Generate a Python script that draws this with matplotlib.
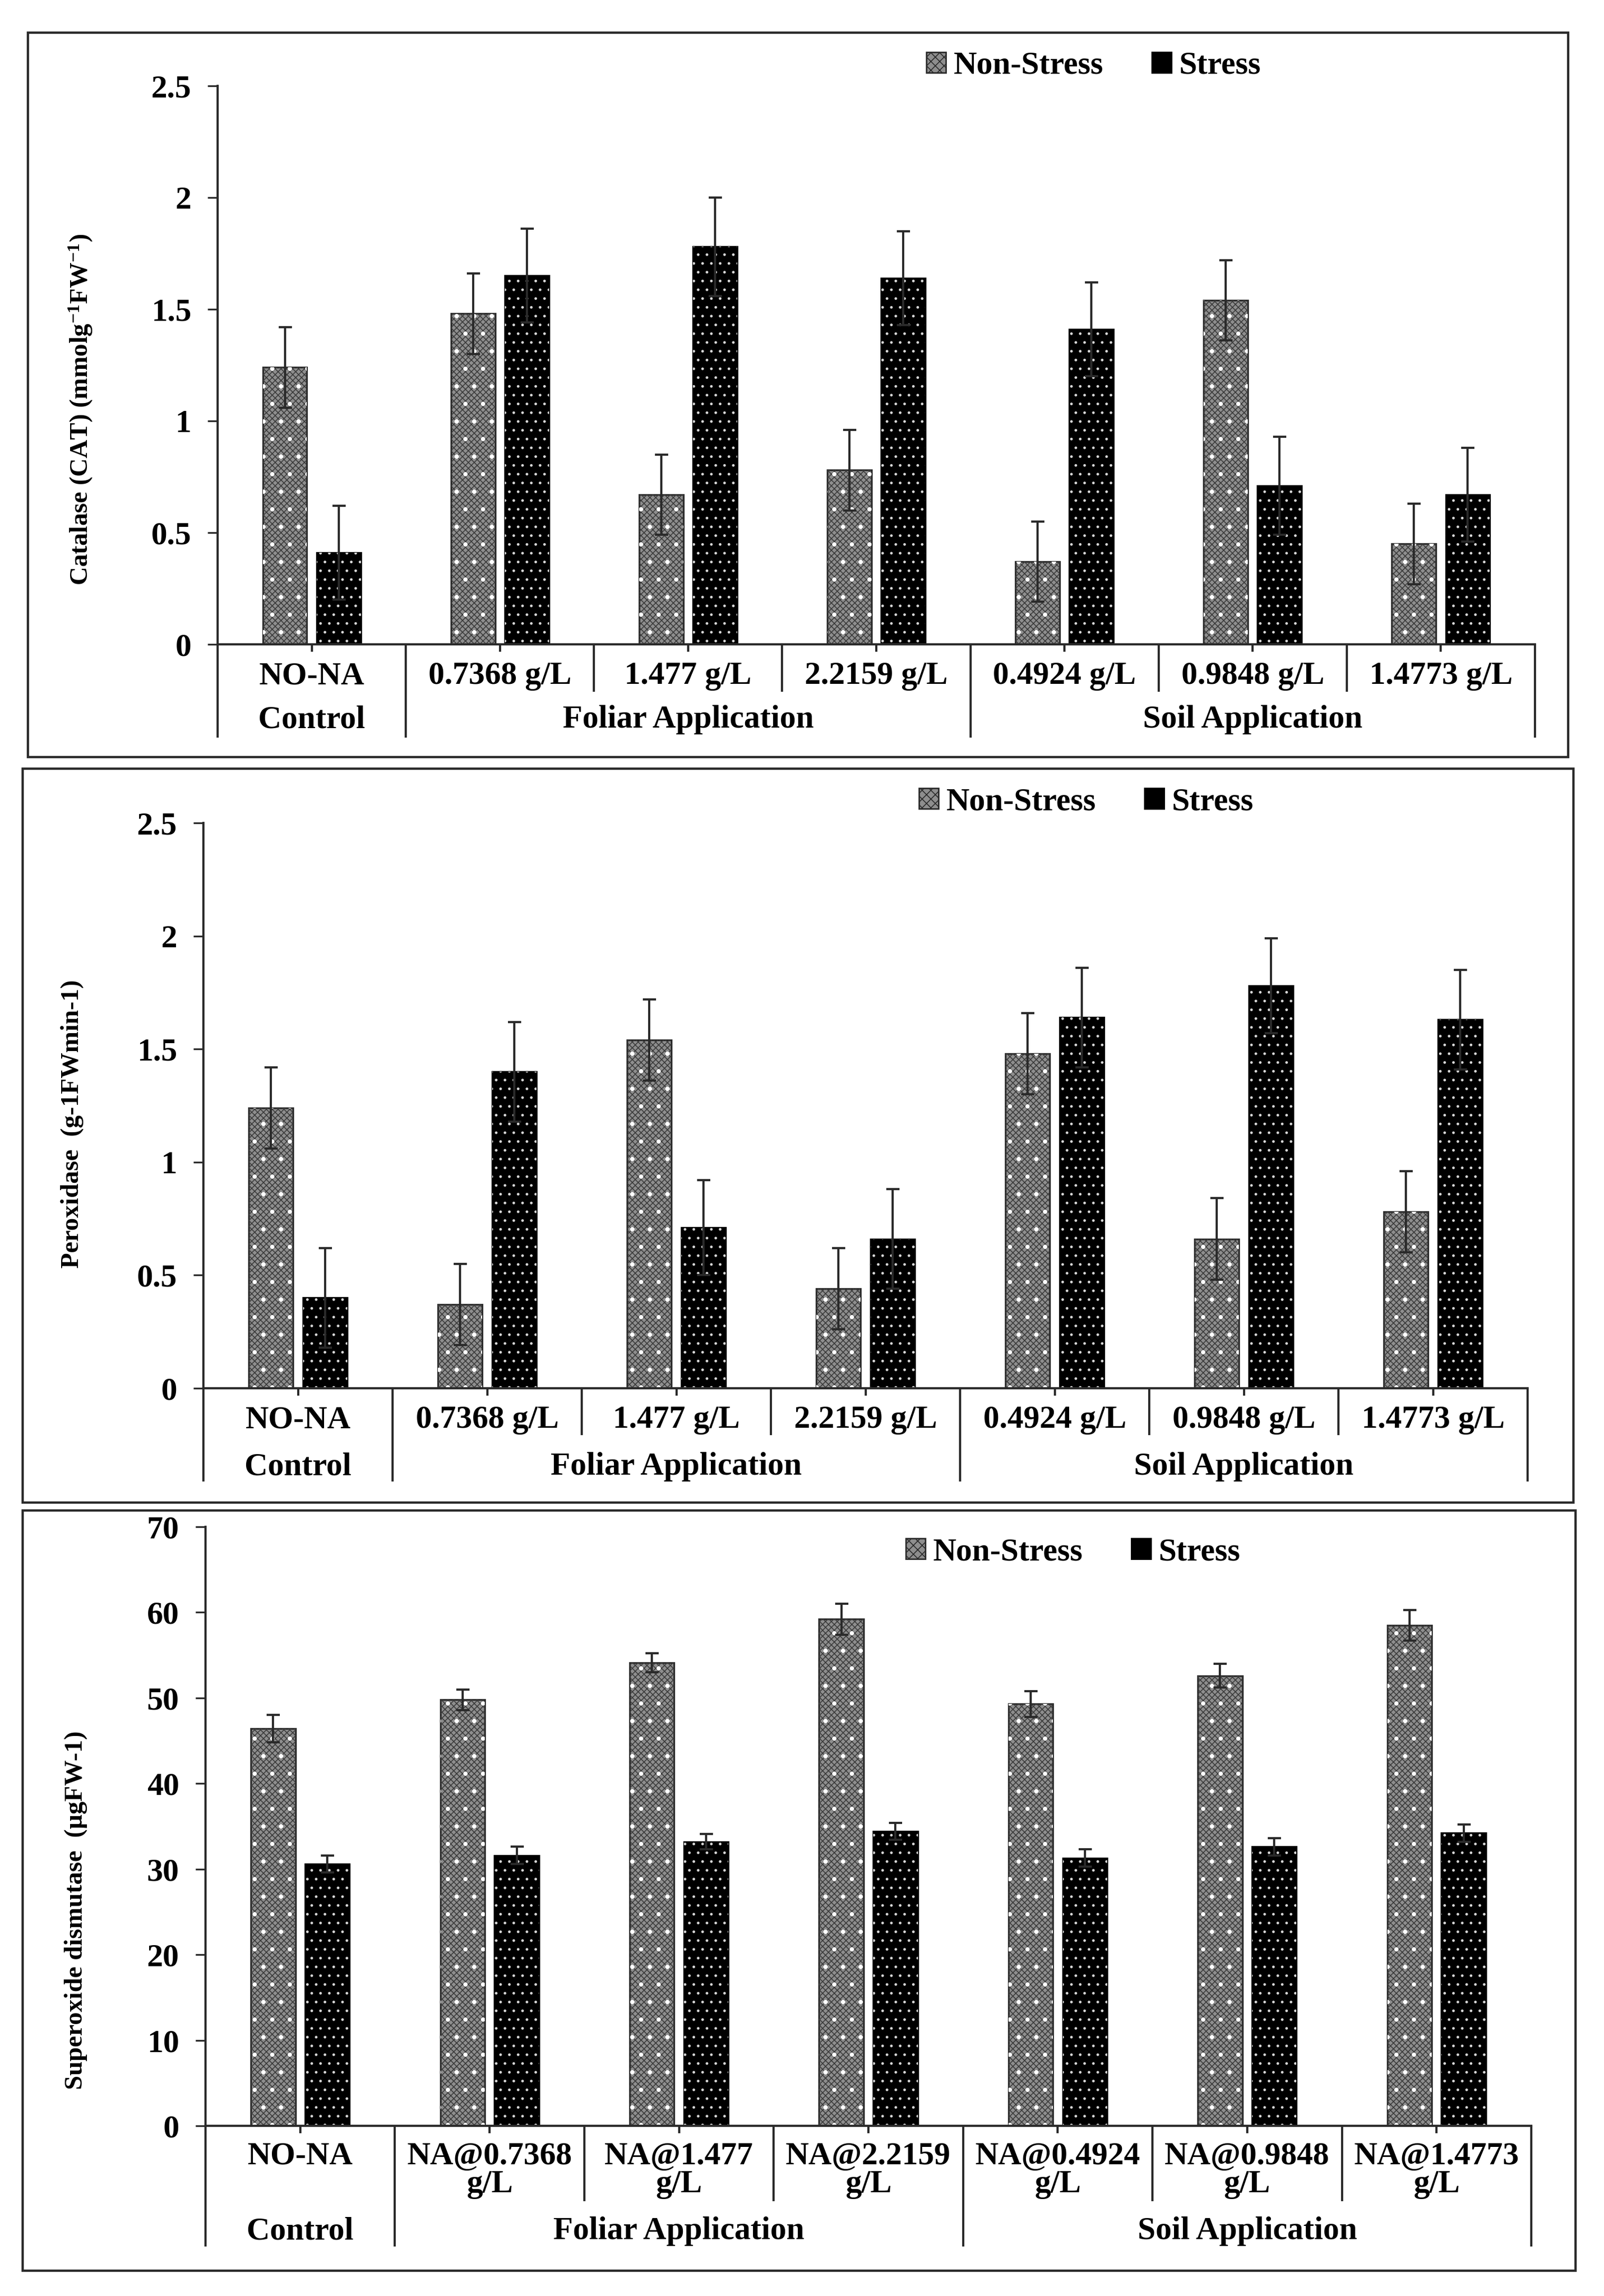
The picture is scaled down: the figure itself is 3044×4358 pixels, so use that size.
import numpy as np
import matplotlib.pyplot as plt
from matplotlib.patches import Rectangle, Patch
from matplotlib.ticker import FuncFormatter

plt.rcParams['font.family'] = ['Liberation Serif', 'DejaVu Serif']
plt.rcParams['font.weight'] = 'bold'
plt.rcParams['mathtext.fontset'] = 'custom'
plt.rcParams['mathtext.rm'] = 'Liberation Serif:bold'
plt.rcParams['mathtext.it'] = 'Liberation Serif:bold'
plt.rcParams['mathtext.bf'] = 'Liberation Serif:bold'
plt.rcParams['hatch.linewidth'] = 0.6

# categories
doses = ["NO-NA", "0.7368 g/L", "1.477 g/L", "2.2159 g/L",
         "0.4924 g/L", "0.9848 g/L", "1.4773 g/L"]
sod_doses = ["NO-NA", "NA@0.7368\ng/L", "NA@1.477\ng/L", "NA@2.2159\ng/L",
             "NA@0.4924\ng/L", "NA@0.9848\ng/L", "NA@1.4773\ng/L"]
groups = ["Control", "Foliar Application", "Soil Application"]
group_pos = [0, 2, 5]
series = ["Non-Stress", "Stress"]

# Catalase
cat_ns = [1.24, 1.48, 0.67, 0.78, 0.37, 1.54, 0.45]
cat_ns_err = [0.18, 0.18, 0.18, 0.18, 0.18, 0.18, 0.18]
cat_st = [0.41, 1.65, 1.78, 1.64, 1.41, 0.71, 0.67]
cat_st_err = [0.21, 0.21, 0.22, 0.21, 0.21, 0.22, 0.21]

# Peroxidase
pod_ns = [1.24, 0.37, 1.54, 0.44, 1.48, 0.66, 0.78]
pod_ns_err = [0.18, 0.18, 0.18, 0.18, 0.18, 0.18, 0.18]
pod_st = [0.40, 1.40, 0.71, 0.66, 1.64, 1.78, 1.63]
pod_st_err = [0.22, 0.22, 0.21, 0.22, 0.22, 0.21, 0.22]

# Superoxide dismutase
sod_ns = [46.4, 49.8, 54.1, 59.2, 49.3, 52.6, 58.5]
sod_ns_err = [1.6, 1.2, 1.1, 1.8, 1.5, 1.4, 1.8]
sod_st = [30.6, 31.6, 33.2, 34.4, 31.3, 32.6, 34.2]
sod_st_err = [1.0, 1.0, 0.9, 1.0, 1.0, 1.0, 1.0]

W, H = 3044, 4358
fig = plt.figure(figsize=(W / 200, H / 200), dpi=200)
fs = 22
dark = '#2a2a2a'


def add_ax(x0, y_top, x1, y_bot):
    return fig.add_axes([x0 / W, 1 - y_bot / H, (x1 - x0) / W, (y_bot - y_top) / H])


def frame(x0, y0, x1, y1):
    fig.patches.append(Rectangle((x0 / W, 1 - y1 / H), (x1 - x0) / W, (y1 - y0) / H,
                                 transform=fig.transFigure, fill=False,
                                 edgecolor=dark, linewidth=1.6))


def panel(ax, ns, ns_err, st, st_err, ymax, ystep, ylabel, ylab_xy, labels,
          row1, row2, short_bot, long_bot, two_line=False):
    x = np.arange(len(ns))
    w = 0.235
    off = 0.143
    # non-stress bars: grey with dark checker and white dots
    ax.bar(x - off, ns, w, color='#8e8e8e', edgecolor=dark, linewidth=1.2, zorder=2)
    ax.bar(x - off, ns, w, fill=False, hatch='xxxxxx', edgecolor='#3c3c3c', linewidth=0, zorder=2.1)
    ax.bar(x - off, ns, w, fill=False, hatch='.', edgecolor='white', linewidth=0, zorder=2.2)
    # stress bars: black with white dots
    ax.bar(x + off, st, w, color='black', edgecolor='black', linewidth=1.2, zorder=2)
    ax.bar(x + off, st, w, fill=False, hatch='..', edgecolor='#d8d8d8', linewidth=0, zorder=2.1)
    ax.errorbar(x - off, ns, yerr=ns_err, fmt='none', ecolor=dark, elinewidth=1.5,
                capsize=4.5, capthick=1.5, zorder=3)
    ax.errorbar(x + off, st, yerr=st_err, fmt='none', ecolor=dark, elinewidth=1.5,
                capsize=4.5, capthick=1.5, zorder=3)

    ax.set_xlim(-0.5, len(ns) - 0.5)
    ax.set_ylim(0, ymax)
    ax.set_yticks(np.arange(0, ymax + ystep / 2, ystep))
    ax.yaxis.set_major_formatter(FuncFormatter(lambda v, p: '%g' % v))
    ax.set_xticks(x)
    ax.set_xticklabels([])
    for s in ['top', 'right']:
        ax.spines[s].set_visible(False)
    for s in ['left', 'bottom']:
        ax.spines[s].set_color(dark)
        ax.spines[s].set_linewidth(1.5)
    ax.tick_params(axis='y', length=7, width=1.2, pad=11, labelsize=fs, colors=dark,
                   labelcolor='black')
    ax.tick_params(axis='x', length=5, width=1.5, colors=dark)

    tr = ax.get_xaxis_transform()
    kw = dict(transform=tr, color=dark, linewidth=1.5, clip_on=False, solid_capstyle='butt')
    for xv in [-0.5, 0.5, 3.5, len(ns) - 0.5]:
        ax.plot([xv, xv], [0, long_bot], **kw)
    for xv in [1.5, 2.5, 4.5, 5.5]:
        ax.plot([xv, xv], [0, short_bot], **kw)

    for i, lab in enumerate(labels):
        if two_line:
            ax.text(i, row1, lab, transform=tr, ha='center', va='top', fontsize=fs,
                    fontweight='bold', linespacing=0.95)
        else:
            ax.text(i, row1, lab, transform=tr, ha='center', va='center', fontsize=fs,
                    fontweight='bold')
    for gx, g in zip(group_pos, groups):
        ax.text(gx, row2, g, transform=tr, ha='center', va='center', fontsize=fs,
                fontweight='bold')

    ax.text(ylab_xy[0], ylab_xy[1], ylabel, transform=ax.transAxes, rotation=90,
            ha='center', va='center', fontsize=17.5, fontweight='bold')


def legend_at(xp, yp):
    handles = [Patch(facecolor='#8e8e8e', edgecolor=dark, hatch='xxxx', linewidth=1),
               Patch(facecolor='black', edgecolor='black', linewidth=1)]
    fig.legend(handles, series, loc='center left', bbox_to_anchor=(xp / W, 1 - yp / H),
               ncol=2, frameon=False, fontsize=fs, handlelength=0.6, handleheight=0.6,
               handletextpad=0.25, columnspacing=1.5, borderpad=0, borderaxespad=0)


# panel 1: catalase
frame(53, 62, 2976, 1437)
ax1 = add_ax(413, 163, 2913, 1223)
panel(ax1, cat_ns, cat_ns_err, cat_st, cat_st_err, 2.5, 0.5,
      'Catalase (CAT) (mmolg$^{-1}$FW$^{-1}$)', (-0.104, 0.42), doses,
      -0.057, -0.135, -0.085, -0.167)
legend_at(1758, 125)

# panel 2: peroxidase
frame(43, 1459, 2986, 2852)
ax2 = add_ax(386, 1562, 2899, 2635)
panel(ax2, pod_ns, pod_ns_err, pod_st, pod_st_err, 2.5, 0.5,
      'Peroxidase  (g-1FWmin-1)', (-0.099, 0.468), doses,
      -0.056, -0.139, -0.083, -0.165)
legend_at(1744, 1522)

# panel 3: superoxide dismutase
frame(43, 2867, 2990, 4310)
ax3 = add_ax(390, 2898, 2906, 4035)
panel(ax3, sod_ns, sod_ns_err, sod_st, sod_st_err, 70, 10,
      'Superoxide dismutase  (µgFW-1)', (-0.098, 0.36), sod_doses,
      -0.026, -0.176, -0.126, -0.201, two_line=True)
legend_at(1719, 2946)

fig.savefig('out.png', dpi=200)
